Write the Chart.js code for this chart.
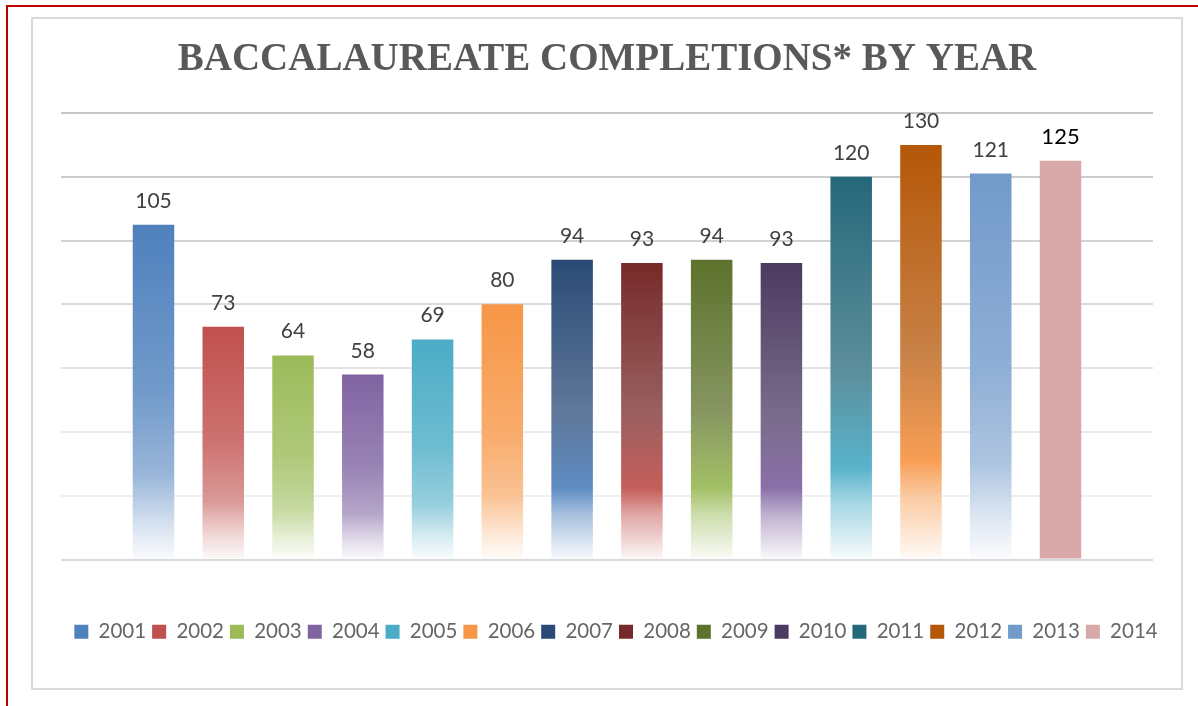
<!DOCTYPE html>
<html>
<head>
<meta charset="utf-8">
<script src="https://cdn.jsdelivr.net/npm/chart.js@4.4.1/dist/chart.umd.min.js"></script>
<style>
html, body { margin: 0; padding: 0; background: #fff; overflow: hidden; }
body { width: 1198px; height: 706px; position: relative; }
#redFrame { position: absolute; left: 6px; top: 5px; width: 1300px; height: 800px; border: 2px solid #c00000; }
#box { position: absolute; left: 31px; top: 17px; width: 1152px; height: 673px; box-sizing: border-box; border: 2px solid #d9d9d9; }
canvas { position: absolute; left: 0; top: 0; }
</style>
</head>
<body>
<div id="redFrame"></div>
<div id="box"></div>
<canvas id="chart" width="1198" height="706"></canvas>
<script>
const years = ['2001', '2002', '2003', '2004', '2005', '2006', '2007', '2008', '2009', '2010', '2011', '2012', '2013', '2014'];
const completions = [105, 73, 64, 58, 69, 80, 94, 93, 94, 93, 120, 130, 121, 125];
const yTicks = [0, 20, 40, 60, 80, 100, 120, 140];

// bar colours: base colour, dark top colour (only for the shaded series), fill kind
const baseColors = ['#4f81bd', '#c0504d', '#9bbb59', '#8064a2', '#4bacc6', '#f79646',
    '#4f81bd', '#c0504d', '#9bbb59', '#8064a2', '#4bacc6', '#f79646', '#729aca', '#d9a9a9'];
const topColors = [null, null, null, null, null, null,
    '#2a4a75', '#772a2a', '#5d722c', '#4b3a61', '#25687a', '#b55708', null, null];
const fillKinds = ['light', 'light', 'light', 'light', 'light', 'light',
    'dark', 'dark', 'dark', 'dark', 'dark', 'dark', 'light', 'solid'];
const gridColors = ['#d9d9d9', '#efefef', '#eaeaea', '#e3e3e3', '#dadada', '#d2d2d2', '#cbcbcb', '#c6c6c6'];

function hexRgb(hex) {
    const n = parseInt(hex.slice(1), 16);
    return [(n >> 16) & 255, (n >> 8) & 255, n & 255];
}

function mix(a, b, t) {
    const ca = hexRgb(a), cb = hexRgb(b);
    const c = ca.map((v, k) => Math.round(v + (cb[k] - v) * t));
    return 'rgb(' + c.join(',') + ')';
}

function barFill(ctx, i) {
    const chart = ctx.chart;
    const base = baseColors[i];
    if (!chart.chartArea || fillKinds[i] === 'solid') {
        return base;
    }
    const y = chart.scales.y;
    const top = y.getPixelForValue(completions[i]);
    const bottom = y.getPixelForValue(0);
    const g = chart.ctx.createLinearGradient(0, top, 0, bottom);
    if (fillKinds[i] === 'dark') {
        g.addColorStop(0, topColors[i]);
        g.addColorStop(0.5, mix(topColors[i], '#ffffff', 0.25));
        g.addColorStop(0.76, mix(base, '#ffffff', 0.08));
        g.addColorStop(0.85, mix(base, '#ffffff', 0.5));
        g.addColorStop(1, mix(base, '#ffffff', 0.96));
    } else {
        g.addColorStop(0, base);
        g.addColorStop(0.5, mix(base, '#ffffff', 0.2));
        g.addColorStop(0.75, mix(base, '#ffffff', 0.42));
        g.addColorStop(0.9, mix(base, '#ffffff', 0.78));
        g.addColorStop(1, mix(base, '#ffffff', 0.97));
    }
    return g;
}

const legendColors = baseColors.map((c, i) => fillKinds[i] === 'dark' ? topColors[i] : c);

const valueLabels = {
    id: 'valueLabels',
    afterDatasetsDraw(chart) {
        const c = chart.ctx;
        c.save();
        c.textAlign = 'center';
        c.textBaseline = 'alphabetic';
        chart.data.datasets.forEach((ds, i) => {
            const bar = chart.getDatasetMeta(i).data[0];
            const last = i === chart.data.datasets.length - 1;
            c.font = (last ? '22px' : '21px') + ' Lato, sans-serif';
            c.fillStyle = last ? '#000000' : '#404040';
            c.fillText(String(ds.data[0]), bar.x, bar.y - 17);
        });
        c.restore();
    }
};

// title and legend sit a little right of the layout centre in the original
const boxShift = {
    id: 'boxShift',
    afterLayout(chart) {
        chart.legend.left += 19;
        chart.legend.right += 19;
        chart.titleBlock.left += 10;
        chart.titleBlock.right += 10;
    }
};

const datasets = years.map((yr, i) => ({
    label: yr,
    data: [completions[i]],
    backgroundColor: (ctx) => barFill(ctx, i),
    borderWidth: 0,
    categoryPercentage: 0.8945,
    barPercentage: 0.595
}));

new Chart(document.getElementById('chart'), {
    type: 'bar',
    data: {
        labels: ['Completions'],
        datasets: datasets
    },
    plugins: [valueLabels, boxShift],
    options: {
        responsive: false,
        animation: false,
        devicePixelRatio: 1,
        layout: {
            padding: { left: 41, right: 45, top: 37, bottom: 54 }
        },
        scales: {
            x: {
                display: false
            },
            y: {
                min: 0,
                max: 140,
                border: { display: false },
                afterBuildTicks: (axis) => {
                    axis.ticks = yTicks.map(v => ({ value: v }));
                },
                afterFit: (axis) => {
                    axis.width = 20;
                },
                ticks: { display: false },
                grid: {
                    drawTicks: false,
                    lineWidth: 2,
                    color: (ctx) => gridColors[yTicks.indexOf(ctx.tick.value)] || '#d9d9d9'
                }
            }
        },
        plugins: {
            title: {
                display: true,
                text: 'BACCALAUREATE COMPLETIONS* BY YEAR',
                color: '#595959',
                font: { family: "'Liberation Serif', 'Times New Roman', serif", size: 39, weight: 'bold' },
                padding: { top: 0, bottom: 29.2 }
            },
            legend: {
                display: true,
                position: 'bottom',
                title: {
                    display: true,
                    text: '',
                    padding: { top: 0, bottom: 41.6 }
                },
                labels: {
                    boxWidth: 14,
                    boxHeight: 14,
                    padding: 6,
                    color: '#595959',
                    font: { family: 'Lato, sans-serif', size: 20.5 },
                    generateLabels: (chart) => chart.data.datasets.map((ds, i) => ({
                        text: ds.label,
                        fillStyle: legendColors[i],
                        strokeStyle: legendColors[i],
                        lineWidth: 0,
                        hidden: false,
                        datasetIndex: i
                    }))
                }
            },
            tooltip: { enabled: false }
        }
    }
});
</script>
</body>
</html>
